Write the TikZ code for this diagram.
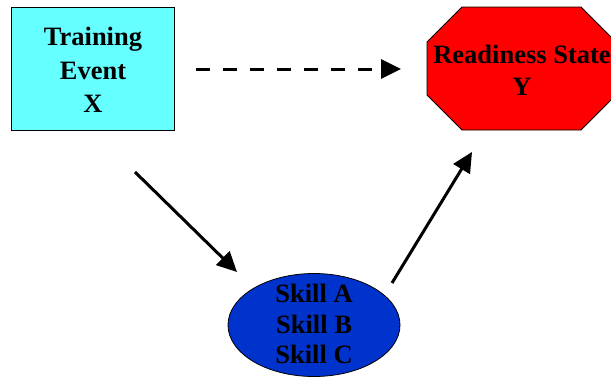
\documentclass[tikz,border=0pt]{standalone}
\usepackage{fontspec}
\setmainfont{Liberation Serif}
\usetikzlibrary{arrows.meta,shapes.geometric}
\definecolor{cyanbox}{RGB}{102,255,255}
\definecolor{redoct}{RGB}{255,0,0}
\definecolor{blueell}{RGB}{0,51,204}
\tikzset{
  lbl/.style={anchor=base,font=\fontsize{26.5}{32}\selectfont\bfseries,inner sep=0pt},
  conn/.style={line width=3pt,-{Triangle[length=20pt,width=19pt]}},
  shp/.style={draw=black,line width=0.8pt},
}
\begin{document}
\begin{tikzpicture}[x=1pt,y=-1pt]
\useasboundingbox (0,0) rectangle (611,376);
\clip (0,0) rectangle (611,376);
% Training box
\node[shp,fill=cyanbox,minimum width=163pt,minimum height=123pt,inner sep=0pt] (x) at (92.5,68.5) {};
\node[lbl] (x1) at (93,45) {Training};
\node[lbl] (x2) at (93,79) {Event};
\node[lbl] (x3) at (93,112) {X};
% Octagon
\draw[shp,fill=redoct] (462,7) -- (581,7) -- (616,42) -- (616,95) -- (581,130) -- (462,130) -- (427,95) -- (427,42) -- cycle;
\coordinate (y) at (521.5,68.5);
\node[lbl] (y1) at (522,63) {Readiness State};
\node[lbl] (y2) at (522,95) {Y};
% Ellipse
\node[shp,ellipse,fill=blueell,minimum width=172pt,minimum height=103pt,inner sep=0pt] (s) at (314,325) {};
\node[lbl] (s1) at (314,302) {Skill A};
\node[lbl] (s2) at (314,333) {Skill B};
\node[lbl] (s3) at (314,363) {Skill C};
% connectors
\coordinate (d0) at (196,69);
\coordinate (d1) at (401,69);
\coordinate (a0) at (135,172);
\coordinate (a1) at (237,272);
\coordinate (b0) at (392,283);
\coordinate (b1) at (472,152);
\draw[conn,dash pattern=on 14pt off 13pt] (d0) -- (d1);
\draw[conn] (a0) -- (a1);
\draw[conn] (b0) -- (b1);
\end{tikzpicture}
\end{document}
